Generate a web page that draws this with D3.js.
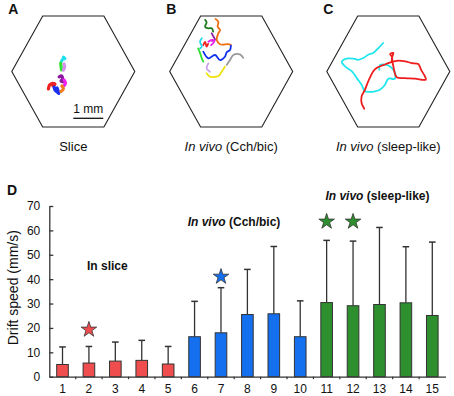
<!DOCTYPE html>
<html>
<head>
<meta charset="utf-8">
<script src="https://cdn.jsdelivr.net/npm/d3@7"></script>
<style>
  body { margin: 0; background: #fff; }
  svg { display: block; font-family: Arial, "Liberation Sans", sans-serif; }
</style>
</head>
<body>
<div id="chart"></div>
<script>
// ---- data ----
const categories = ["1","2","3","4","5","6","7","8","9","10","11","12","13","14","15"];
const driftMean  = [5.0, 5.6, 6.4, 6.7, 5.2, 16.4, 18.0, 25.5, 25.8, 16.4, 30.4, 29.1, 29.6, 30.3, 25.1];
const driftSD    = [7.2, 6.8, 7.8, 8.2, 7.2, 14.5, 18.5, 18.5, 27.6, 14.7, 25.5, 26.5, 31.6, 23.0, 30.1];
const groupOf    = ["slice","slice","slice","slice","slice","cch","cch","cch","cch","cch","sleep","sleep","sleep","sleep","sleep"];
const yTicks     = [0, 10, 20, 30, 40, 50, 60, 70];
const starMarks  = [
  { cat: "2",  value: 19.3, group: "slice" },
  { cat: "7",  value: 41.0, group: "cch" },
  { cat: "11", value: 63.6, group: "sleep" },
  { cat: "12", value: 63.6, group: "sleep" }
];
const groupColors = { slice: "#f04e4e", cch: "#1470ee", sleep: "#2e8f2e" };

// hexagon outline of the recording area (mm, relative to centre)
const hexVertices = [[-1.02,-1.85],[1.02,-1.85],[2.05,0],[1.02,1.85],[-1.02,1.85],[-2.05,0]];

// trajectories (mm, relative to hexagon centre)
const trajSlice = [
  { color: "#22e0ee", pts: [[-0.33,-0.48],[-0.28,-0.43],[-0.35,-0.41],[-0.39,-0.35]] },
  { color: "#30e030", pts: [[-0.42,-0.28],[-0.41,-0.18],[-0.39,-0.05]] },
  { color: "#d890ee", pts: [[-0.31,-0.25],[-0.29,-0.15],[-0.33,-0.05]] },
  { color: "#8a1aa0", pts: [[-0.47,0.18],[-0.39,0.15],[-0.36,0.25],[-0.41,0.32],[-0.33,0.35]] },
  { color: "#ee22ee", pts: [[-0.31,0.28],[-0.26,0.38],[-0.31,0.48]] },
  { color: "#ee2020", pts: [[-0.83,0.58],[-0.79,0.45],[-0.71,0.40],[-0.61,0.42],[-0.68,0.48]] },
  { color: "#1a30ee", pts: [[-0.64,0.52],[-0.61,0.62],[-0.54,0.68],[-0.48,0.73],[-0.54,0.55]] },
  { color: "#f07a20", pts: [[-0.38,0.48],[-0.33,0.58],[-0.41,0.67]] }
];
const trajCch = [
  { color: "#f07010", pts: [[-0.52,-1.75],[-0.43,-1.66],[-0.45,-1.49],[-0.37,-1.38],[-0.43,-1.27],[-0.48,-1.05],[-0.37,-0.91],[-0.10,-0.91],[-0.01,-0.88]] },
  { color: "#1a7a1a", pts: [[-0.87,-1.72],[-0.82,-1.64],[-0.87,-1.49],[-0.76,-1.44],[-0.65,-1.44],[-0.60,-1.33]] },
  { color: "#8a1aa0", pts: [[-0.65,-1.27],[-0.60,-1.18],[-0.54,-1.05],[-0.64,-1.02]] },
  { color: "#ee22ee", pts: [[-0.76,-0.99],[-0.65,-1.05],[-0.56,-1.02],[-0.67,-0.88]] },
  { color: "#ee2020", pts: [[-0.93,-0.88],[-0.87,-0.99],[-0.82,-0.83],[-0.77,-0.92]] },
  { color: "#22d8ee", pts: [[-0.98,-1.11],[-1.04,-0.99],[-0.98,-0.83],[-1.04,-0.77]] },
  { color: "#30e030", pts: [[-1.10,-0.77],[-1.04,-0.62],[-0.98,-0.44],[-0.93,-0.33]] },
  { color: "#1030ee", pts: [[-0.93,-0.66],[-0.76,-0.44],[-0.54,-0.55],[-0.37,-0.38],[-0.21,-0.49],[-0.15,-0.64],[-0.04,-0.72],[-0.01,-0.86]] },
  { color: "#999999", pts: [[-0.15,-0.22],[-0.04,-0.38],[0.07,-0.55],[0.29,-0.57],[0.40,-0.46]] },
  { color: "#c8a0ee", pts: [[-0.76,-0.27],[-0.82,-0.11],[-0.71,0.01]] },
  { color: "#f0e010", pts: [[-0.82,0.06],[-0.71,0.17],[-0.43,0.15],[-0.32,0.01],[-0.21,-0.16]] }
];
const trajSleep = [
  { color: "#22e6ee", pts: [[-0.17,-0.95],[-0.33,-0.78],[-0.50,-0.62],[-0.67,-0.56],[-0.83,-0.45],[-1.00,-0.39],[-1.17,-0.43],[-1.39,-0.43],[-1.55,-0.32],[-1.44,-0.17],[-1.22,-0.01],[-1.05,0.22],[-0.89,0.44],[-0.78,0.66],[-0.61,0.68],[-0.44,0.66],[-0.28,0.61],[-0.11,0.44],[0.00,0.24],[0.22,0.24],[0.20,-0.01],[0.06,-0.17],[-0.11,-0.23],[-0.28,-0.21],[-0.30,-0.06]] },
  { color: "#ee1c1c", pts: [[-0.80,1.24],[-0.89,1.05],[-0.89,0.83],[-0.78,0.61],[-0.67,0.33],[-0.50,-0.01],[-0.39,-0.12],[-0.17,-0.21],[0.00,-0.28],[0.13,-0.34],[0.11,-0.51],[0.06,-0.58],[0.17,-0.62],[0.12,-0.45],[0.13,-0.34],[0.33,-0.36],[0.56,-0.34],[0.78,-0.28],[1.00,-0.25],[1.09,-0.06],[1.22,0.16],[1.25,0.27],[0.89,0.24],[0.56,0.22],[0.28,0.19],[0.20,-0.01],[0.17,-0.17],[0.13,-0.34]] }
];

const panels = [
  { letter: "A", cx: 73.3,  traj: trajSlice, width: 3.2, caption: [{ t: "Slice" }] },
  { letter: "B", cx: 231.2, traj: trajCch,   width: 1.8, caption: [{ t: "In vivo", it: true }, { t: " (Cch/bic)" }] },
  { letter: "C", cx: 388.3, traj: trajSleep, width: 1.8, caption: [{ t: "In vivo", it: true }, { t: " (sleep-like)" }] }
];

// ---- setup ----
const width = 454, height = 396;
const svg = d3.select("#chart").append("svg")
  .attr("width", width).attr("height", height)
  .attr("viewBox", `0 0 ${width} ${height}`);

const font_color = "#111";
const font_family = "Arial, 'Liberation Sans', sans-serif";

// ---- top panels ----
const pxPerMm = 30, cy = 71.5;
panels.forEach(p => {
  const sx = d3.scaleLinear().domain([-1, 1]).range([p.cx - pxPerMm, p.cx + pxPerMm]);
  const sy = d3.scaleLinear().domain([-1, 1]).range([cy - pxPerMm, cy + pxPerMm]);
  const g = svg.append("g").attr("class", "panel-" + p.letter);

  g.append("text")
    .attr("x", p.cx - 65).attr("y", 14)
    .attr("font-size", 14).attr("font-weight", "bold").attr("fill", font_color)
    .text(p.letter);

  g.append("path")
    .attr("d", d3.line().x(d => sx(d[0])).y(d => sy(d[1]))(hexVertices) + "Z")
    .attr("fill", "none").attr("stroke", "#222").attr("stroke-width", 1.1);

  const line = d3.line().x(d => sx(d[0])).y(d => sy(d[1])).curve(d3.curveCatmullRom);
  g.selectAll("path.traj").data(p.traj).enter().append("path")
    .attr("class", "traj")
    .attr("d", d => line(d.pts))
    .attr("fill", "none")
    .attr("stroke", d => d.color)
    .attr("stroke-width", p.width)
    .attr("stroke-linecap", "round")
    .attr("stroke-linejoin", "round");

  const cap = g.append("text")
    .attr("x", p.cx).attr("y", 151)
    .attr("text-anchor", "middle")
    .attr("font-size", 13).attr("fill", font_color);
  p.caption.forEach(c => cap.append("tspan").attr("font-style", c.it ? "italic" : null).text(c.t));

  if (p.letter === "A") {
    g.append("line")
      .attr("x1", sx(0)).attr("x2", sx(1))
      .attr("y1", 118.3).attr("y2", 118.3)
      .attr("stroke", "#111").attr("stroke-width", 1.3);
    g.append("text")
      .attr("x", (sx(0) + sx(1)) / 2).attr("y", 113)
      .attr("text-anchor", "middle")
      .attr("font-size", 12).attr("fill", font_color)
      .text("1 mm");
  }
});

// ---- panel D: bar chart ----
const axisColor = "#333";
svg.append("text")
  .attr("x", 7).attr("y", 195)
  .attr("font-size", 14).attr("font-weight", "bold").attr("fill", font_color)
  .text("D");

const xScale = d3.scaleBand()
  .domain(categories)
  .range([49.3, 445.5])
  .paddingInner(0.56)
  .paddingOuter(0.28);

const yScale = d3.scaleLinear()
  .domain([0, 70])
  .range([376.7, 206]);

const bw = xScale.bandwidth();
const step = xScale.step();

// y axis
const yAxis = svg.append("g")
  .attr("transform", `translate(${xScale.range()[0]},0)`)
  .call(d3.axisLeft(yScale).tickValues(yTicks).tickSizeInner(-4).tickSizeOuter(0).tickPadding(9));
yAxis.select(".domain").attr("stroke", axisColor).attr("stroke-width", 1.3);
yAxis.selectAll(".tick line").attr("stroke", axisColor).attr("stroke-width", 1.3);
yAxis.selectAll("text")
  .style("font-size", "12px")
  .style("font-family", font_family).attr("fill", font_color);

// x axis
const xAxis = svg.append("g")
  .attr("transform", `translate(0,${yScale(0)})`)
  .call(d3.axisBottom(xScale).tickSize(0).tickPadding(8));
xAxis.select(".domain").attr("stroke", axisColor).attr("stroke-width", 1.3);
xAxis.selectAll("text")
  .style("font-size", "12px")
  .style("font-family", font_family).attr("fill", font_color);
xAxis.selectAll("line.sep").data(categories.slice(1)).enter().append("line")
  .attr("class", "sep")
  .attr("x1", d => xScale(d) - (step - bw) / 2).attr("x2", d => xScale(d) - (step - bw) / 2)
  .attr("y1", 0).attr("y2", 2.5)
  .attr("stroke", axisColor).attr("stroke-width", 1.2);

// error bars (upper only)
const barData = categories.map((c, i) => ({ cat: c, mean: driftMean[i], sd: driftSD[i], group: groupOf[i] }));
const errG = svg.append("g").attr("class", "err");
errG.selectAll("line.v").data(barData).enter().append("line")
  .attr("class", "v")
  .attr("x1", d => xScale(d.cat) + bw / 2).attr("x2", d => xScale(d.cat) + bw / 2)
  .attr("y1", d => yScale(d.mean)).attr("y2", d => yScale(d.mean + d.sd))
  .attr("stroke", axisColor).attr("stroke-width", 1.3);
errG.selectAll("line.cap").data(barData).enter().append("line")
  .attr("class", "cap")
  .attr("x1", d => xScale(d.cat) + bw / 2 - 3.3).attr("x2", d => xScale(d.cat) + bw / 2 + 3.3)
  .attr("y1", d => yScale(d.mean + d.sd)).attr("y2", d => yScale(d.mean + d.sd))
  .attr("stroke", axisColor).attr("stroke-width", 1.5);

// bars
svg.append("g").selectAll("rect").data(barData).enter().append("rect")
  .attr("x", d => xScale(d.cat))
  .attr("y", d => yScale(d.mean))
  .attr("width", bw)
  .attr("height", d => yScale(0) - yScale(d.mean))
  .attr("fill", d => groupColors[d.group])
  .attr("stroke", "#333").attr("stroke-width", 1);

// significance stars
svg.append("g").selectAll("path").data(starMarks).enter().append("path")
  .attr("d", d3.symbol(d3.symbolStar).size(75))
  .attr("transform", d => `translate(${xScale(d.cat) + bw / 2},${yScale(d.value)})`)
  .attr("fill", d => groupColors[d.group])
  .attr("stroke", "#333").attr("stroke-width", 0.8);

// group labels
const groupLabels = [
  { x: xScale("3") + bw / 2 - 8,  v: 45.5, parts: [{ t: "In slice" }] },
  { x: xScale("7") + bw / 2 + 13, v: 63.5, parts: [{ t: "In vivo", it: true }, { t: " (Cch/bic)" }] },
  { x: xScale("13") + bw / 2 - 2, v: 74.2, parts: [{ t: "In vivo", it: true }, { t: " (sleep-like)" }] }
];
groupLabels.forEach(l => {
  const t = svg.append("text")
    .attr("x", l.x).attr("y", yScale(l.v))
    .attr("dy", "0.35em")
    .attr("text-anchor", "middle")
    .attr("font-size", 12).attr("font-weight", "bold").attr("fill", font_color);
  l.parts.forEach(p => t.append("tspan").attr("font-style", p.it ? "italic" : null).text(p.t));
});

// y axis label
svg.append("text")
  .attr("transform", "rotate(-90)")
  .attr("x", -yScale(36.5)).attr("y", 13)
  .attr("dy", "0.35em")
  .attr("text-anchor", "middle")
  .attr("font-size", 14).attr("fill", font_color)
  .text("Drift speed (mm/s)");
</script>
</body>
</html>
